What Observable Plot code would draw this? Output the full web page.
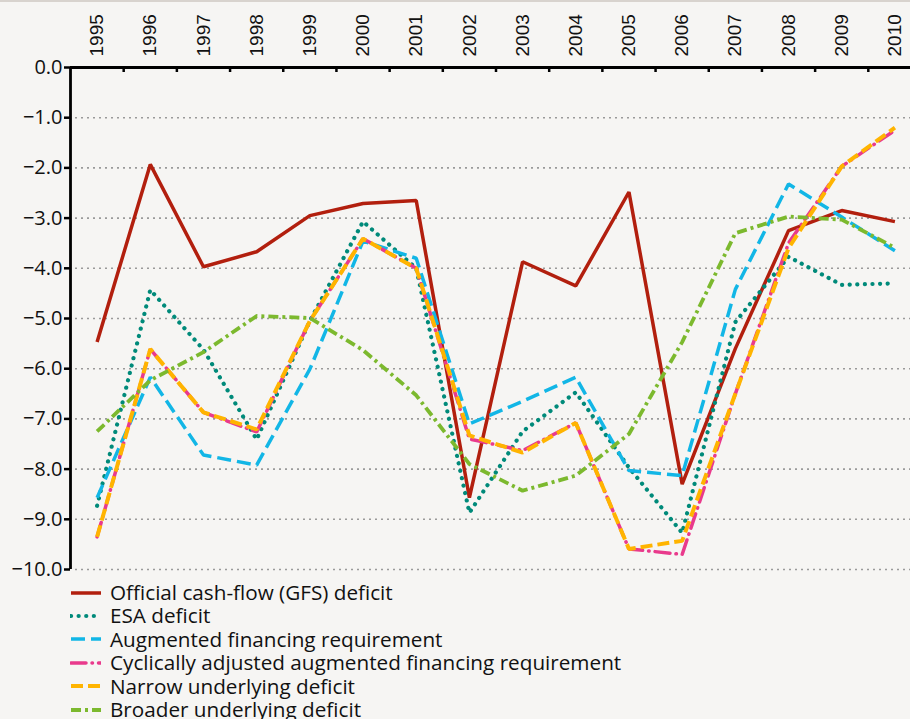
<!DOCTYPE html>
<html>
<head>
<meta charset="utf-8">
<script src="https://cdn.jsdelivr.net/npm/d3@7"></script>
<script src="https://cdn.jsdelivr.net/npm/@observablehq/plot@0.6"></script>
<style>
  html, body { margin: 0; padding: 0; background: #f6f5f3; overflow: hidden; }
  body { border-top: 2px solid #d8d3ce; width: 910px; height: 717px; }
  #chart svg { background: transparent; overflow: visible; }
  #legend { margin-left: 70px; margin-top: 9px; font-family: 'Open Sans', sans-serif; font-size: 20.7px; color: #111; }
  #legend .row { height: 23.4px; display: flex; align-items: center; white-space: nowrap; }
  #legend .row span { display: block; height: 23.4px; line-height: 23.4px; overflow: visible; }
  #legend svg { margin-right: 9px; flex: none; }
</style>
</head>
<body>
<div id="chart"></div>
<div id="legend"></div>
<script>
const years = [1995,1996,1997,1998,1999,2000,2001,2002,2003,2004,2005,2006,2007,2008,2009,2010];
const bandEdges = [1995.5,1996.5,1997.5,1998.5,1999.5,2000.5,2001.5,2002.5,2003.5,2004.5,2005.5,2006.5,2007.5,2008.5,2009.5];
const yTicks = [0,-1,-2,-3,-4,-5,-6,-7,-8,-9,-10];

const seriesNames = [
  "Official cash-flow (GFS) deficit",
  "ESA deficit",
  "Augmented financing requirement",
  "Cyclically adjusted augmented financing requirement",
  "Narrow underlying deficit",
  "Broader underlying deficit"
];

const gfsDeficit     = [-5.47,-1.93,-3.97,-3.67,-2.95,-2.71,-2.65,-8.57,-3.87,-4.35,-2.48,-8.30,-5.60,-3.25,-2.85,-3.07];
const esaDeficit     = [-8.73,-4.43,-5.62,-7.41,-5.05,-3.07,-4.00,-8.87,-7.25,-6.47,-7.97,-9.27,-5.07,-3.77,-4.33,-4.30];
const augmented      = [-8.57,-6.17,-7.72,-7.92,-6.01,-3.46,-3.80,-7.10,-6.65,-6.17,-8.03,-8.13,-4.42,-2.32,-2.98,-3.65];
const cyclAdjusted   = [-9.35,-5.61,-6.87,-7.26,-5.05,-3.41,-4.00,-7.40,-7.63,-7.08,-9.59,-9.70,-6.50,-3.50,-1.97,-1.25];
const narrow         = [-9.35,-5.61,-6.87,-7.21,-5.05,-3.41,-4.00,-7.33,-7.67,-7.08,-9.59,-9.43,-6.50,-3.60,-1.97,-1.20];
const broader        = [-7.25,-6.23,-5.67,-4.95,-4.99,-5.63,-6.53,-7.90,-8.43,-8.13,-7.30,-5.47,-3.30,-2.97,-3.03,-3.59];

const seriesValues = [gfsDeficit, esaDeficit, augmented, cyclAdjusted, narrow, broader];
const styles = [
  {stroke: "#b21f0e", strokeWidth: 3.5, strokeDasharray: null, strokeLinecap: "butt"},
  {stroke: "#008a7a", strokeWidth: 4.2, strokeDasharray: "0.1,7.5", strokeLinecap: "round"},
  {stroke: "#12b6e6", strokeWidth: 3.5, strokeDasharray: "14,6", strokeLinecap: "butt"},
  {stroke: "#e93a8c", strokeWidth: 3.5, strokeDasharray: "15,6,0.5,6", strokeLinecap: "round"},
  {stroke: "#ffb400", strokeWidth: 4, strokeDasharray: "12,5", strokeLinecap: "butt"},
  {stroke: "#7cb92e", strokeWidth: 3.8, strokeDasharray: "10,4,3,4", strokeLinecap: "butt"}
];

const lineMarks = seriesValues.map((vals, i) =>
  Plot.line(years.map((yr, j) => ({year: yr, value: vals[j]})), {
    x: "year", y: "value",
    stroke: styles[i].stroke,
    strokeWidth: styles[i].strokeWidth,
    strokeDasharray: styles[i].strokeDasharray,
    strokeLinecap: styles[i].strokeLinecap,
    strokeLinejoin: "miter"
  })
);

const chart = Plot.plot({
  width: 910,
  height: 570,
  marginLeft: 70,
  marginRight: -11,
  marginTop: 65,
  marginBottom: 3,
  style: {background: "transparent", fontFamily: "'Open Sans', sans-serif", fontSize: "20px", color: "#111"},
  x: {type: "linear", domain: [1994.5, 2010.5], axis: null},
  y: {domain: [-10, 0], axis: null},
  marks: [
    Plot.gridY(yTicks.filter(d => d !== 0), {stroke: "#9a9a9a", strokeOpacity: 1, strokeWidth: 1.6, strokeDasharray: "2,4", insetLeft: 5}),
    Plot.axisY(yTicks, {anchor: "left", label: null, tickFormat: d3.format(".1f"), tickSize: 6, tickPadding: 2, strokeWidth: 2.5, stroke: "#000", fontSize: 20, fill: "#111"}),
    Plot.axisX(years, {anchor: "top", label: null, tickSize: 0, tickPadding: 11, tickRotate: -90, tickFormat: d => String(d), fontFamily: "'Liberation Sans', Arial, sans-serif", fontSize: 19, fill: "#111"}),
    Plot.axisX(bandEdges, {anchor: "top", label: null, tickSize: -4, tickFormat: () => "", strokeWidth: 2.5, stroke: "#000"}),
    ...lineMarks,
    Plot.ruleY([0], {stroke: "#000", strokeWidth: 2.8}),
    Plot.ruleX([1994.5], {stroke: "#000", strokeWidth: 2.8})
  ]
});
document.getElementById("chart").appendChild(chart);

const legend = d3.select("#legend");
seriesNames.forEach((name, i) => {
  const row = legend.append("div").attr("class", "row");
  const svg = row.append("svg").attr("width", 31).attr("height", 10);
  svg.append("line")
    .attr("x1", 1).attr("x2", 31).attr("y1", 5).attr("y2", 5)
    .attr("stroke", styles[i].stroke)
    .attr("stroke-width", styles[i].strokeWidth)
    .attr("stroke-dasharray", styles[i].strokeDasharray)
    .attr("stroke-linecap", styles[i].strokeLinecap);
  row.append("span").text(name);
});
</script>
</body>
</html>
